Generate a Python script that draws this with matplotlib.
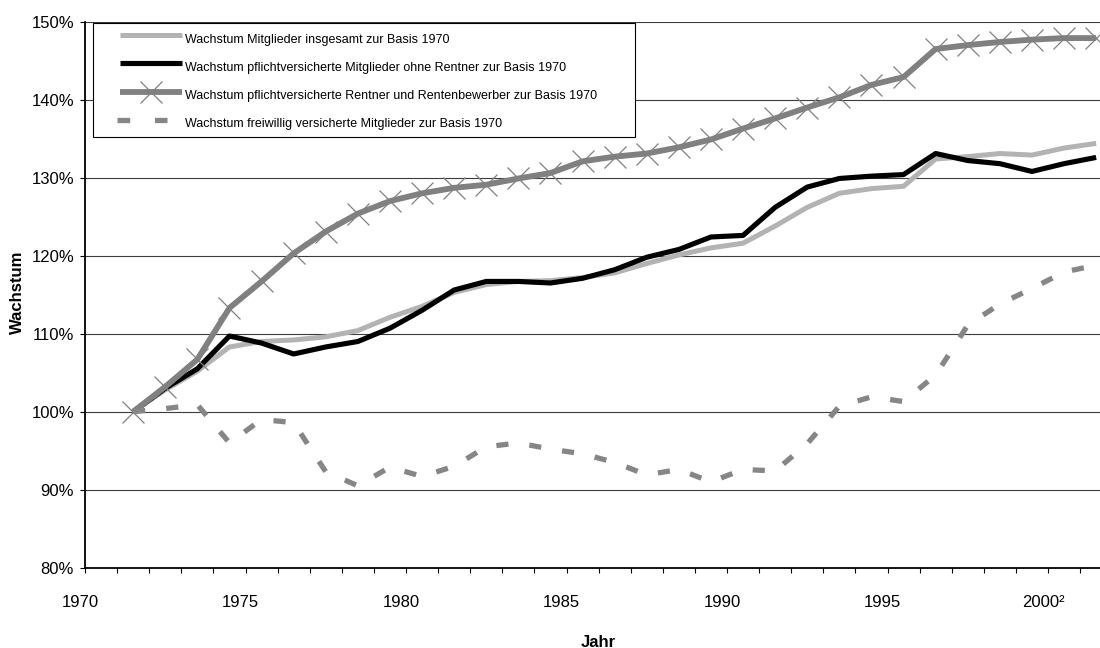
import numpy as np
import matplotlib
matplotlib.use("Agg")
import matplotlib.pyplot as plt
from matplotlib.lines import Line2D
from matplotlib.patches import Rectangle

# ---------------- data ----------------
jahre = list(range(1970, 2001))

insgesamt = [100.0, 102.8, 105.2, 108.3, 109.0, 109.2, 109.6, 110.4, 112.1, 113.5,
             115.3, 116.3, 116.7, 116.8, 117.2, 117.8, 119.0, 120.1, 121.0, 121.6,
             123.8, 126.2, 128.0, 128.6, 128.9, 132.4, 132.7, 133.1, 132.9, 133.8,
             134.4]
pflicht = [100.0, 103.0, 105.5, 109.7, 108.8, 107.4, 108.3, 109.0, 110.7, 113.0,
           115.6, 116.7, 116.7, 116.5, 117.1, 118.2, 119.8, 120.8, 122.4, 122.6,
           126.2, 128.8, 129.9, 130.2, 130.4, 133.1, 132.2, 131.8, 130.8, 131.8,
           132.6]
rentner = [100.0, 103.2, 106.7, 113.3, 116.7, 120.3, 123.1, 125.4, 127.0, 128.0,
           128.7, 129.1, 129.9, 130.6, 132.1, 132.7, 133.1, 133.9, 134.9, 136.3,
           137.6, 139.0, 140.3, 141.9, 142.9, 146.5, 147.0, 147.4, 147.7, 147.9,
           147.9]
freiwillig = [100.0, 100.4, 100.9, 96.0, 99.0, 98.6, 92.3, 90.5, 92.9, 91.7,
              93.0, 95.5, 96.0, 95.2, 94.6, 93.5, 91.9, 92.6, 91.0, 92.6,
              92.4, 95.9, 100.7, 101.9, 101.3, 104.7, 111.1, 113.8, 115.8, 117.9,
              118.8]

tick_jahre = list(range(1970, 2002))
label_jahre = [1970, 1975, 1980, 1985, 1990, 1995, 2000]
label_texte = ["1970", "1975", "1980", "1985", "1990", "1995", "2000\u00b2"]
y_ticks = [80, 90, 100, 110, 120, 130, 140, 150]
y_labels = ["80%", "90%", "100%", "110%", "120%", "130%", "140%", "150%"]

legend_labels = [
    "Wachstum Mitglieder insgesamt zur Basis 1970",
    "Wachstum pflichtversicherte Mitglieder ohne Rentner zur Basis 1970",
    "Wachstum pflichtversicherte Rentner und Rentenbewerber zur Basis 1970",
    "Wachstum freiwillig versicherte Mitglieder zur Basis 1970",
]

# ---------------- style ----------------
plt.rcParams['font.family'] = ['Liberation Sans', 'DejaVu Sans']

W, H = 1100, 648
fig = plt.figure(figsize=(W / 100, H / 100), dpi=100)
fig.patch.set_facecolor('white')


def fx(px):
    return px / W


def fy(py):
    return 1 - py / H


ax_left, ax_right = 85.0, 1100.0
ax_top, ax_bottom = 21.7, 567.7
ax = fig.add_axes([fx(ax_left), fy(ax_bottom), (ax_right - ax_left) / W,
                   (ax_bottom - ax_top) / H])

px_per_year = 32.1
x_min = 1970
x_max = 1970 + (ax_right - ax_left) / px_per_year
ax.set_xlim(x_min, x_max)
ax.set_ylim(80, 150)

# category offset: points sit between tick marks (Excel category axis)
x = np.array(jahre) + 1.5

c_light = '#b3b3b3'
c_dark = '#808080'
c_dash = '#868686'

ax.plot(x, insgesamt, color=c_light, lw=3.6, solid_joinstyle='round',
        solid_capstyle='butt', zorder=3, clip_on=False)
ax.plot(x, pflicht, color='black', lw=3.7, solid_joinstyle='round',
        solid_capstyle='butt', zorder=4, clip_on=False)
ax.plot(x, rentner, color=c_dark, lw=4.2, solid_joinstyle='round',
        solid_capstyle='butt', marker='x', ms=15.5, mew=0.9, mec=c_dark,
        zorder=5, clip_on=False)
ax.plot(x, freiwillig, color=c_dash, lw=3.8, linestyle=(0, (2.3, 4.0)),
        dash_capstyle='butt', dash_joinstyle='round', zorder=6, clip_on=False)

# grid
for v in y_ticks[1:]:
    ax.axhline(v, color='#3c3c3c', lw=0.8, zorder=1)

# spines
for s in ['top', 'right']:
    ax.spines[s].set_visible(False)
ax.spines['left'].set_color('black')
ax.spines['left'].set_linewidth(1.3)
ax.spines['bottom'].set_color('black')
ax.spines['bottom'].set_linewidth(1.3)

# y ticks
ax.set_yticks(y_ticks)
ax.set_yticklabels(y_labels, fontsize=12)
ax.tick_params(axis='y', direction='out', length=3.6, width=0.8, pad=4.3,
               colors='black')

# x ticks (marks at every year), labels placed separately
ax.set_xticks(tick_jahre)
ax.set_xticklabels([''] * len(tick_jahre))
ax.tick_params(axis='x', direction='out', length=3.6, width=0.8, colors='black')

label_offset = 5.0 / px_per_year
for yr, txt in zip(label_jahre, label_texte):
    xpos = ax_left + (yr - x_min) * px_per_year - 5.0
    fig.text(fx(xpos), fy(606.7), txt, fontsize=12, ha='center', va='baseline')

# axis titles
fig.text(fx(598), fy(647), "Jahr", fontsize=12, fontweight='bold',
         ha='center', va='baseline')
fig.text(fx(17.5), fy(292.5), "Wachstum", fontsize=12, fontweight='bold',
         ha='center', va='center', rotation=90)

# ---------------- legend (drawn in figure pixels) ----------------
bx0, by0, bx1, by1 = 93.3, 23.3, 635.0, 137.0
fig.add_artist(Rectangle((fx(bx0), fy(by1)), (bx1 - bx0) / W, (by1 - by0) / H,
                         transform=fig.transFigure, facecolor='white',
                         edgecolor='black', lw=0.8, zorder=5))

line_y = [35.0, 63.3, 91.6, 119.9]
text_y = [43.3, 71.1, 98.9, 126.7]
hx0, hx1 = 120.0, 181.7
tx = 185.0

fig.add_artist(Line2D([fx(hx0), fx(hx1)], [fy(line_y[0])] * 2,
                      transform=fig.transFigure, color=c_light, lw=3.6,
                      solid_capstyle='butt', zorder=6))
fig.add_artist(Line2D([fx(hx0), fx(hx1)], [fy(line_y[1])] * 2,
                      transform=fig.transFigure, color='black', lw=3.7,
                      solid_capstyle='butt', zorder=6))
fig.add_artist(Line2D([fx(hx0), fx(hx1)], [fy(line_y[2])] * 2,
                      transform=fig.transFigure, color=c_dark, lw=4.2,
                      solid_capstyle='butt', zorder=6))
fig.add_artist(Line2D([fx((hx0 + hx1) / 2)], [fy(line_y[2])],
                      transform=fig.transFigure, color=c_dark, lw=0,
                      marker='x', ms=15.5, mew=0.9, mec=c_dark, zorder=7))
fig.add_artist(Line2D([fx(116.7), fx(166.5)], [fy(line_y[3])] * 2,
                      transform=fig.transFigure, color=c_dash, lw=3.8,
                      linestyle=(0, (2.4, 4.7)), dash_capstyle='butt', zorder=6))

for ty, lab in zip(text_y, legend_labels):
    fig.text(fx(tx), fy(ty), lab, fontsize=9, ha='left', va='baseline', zorder=7)

fig.savefig("out.png", dpi=100, facecolor='white')
